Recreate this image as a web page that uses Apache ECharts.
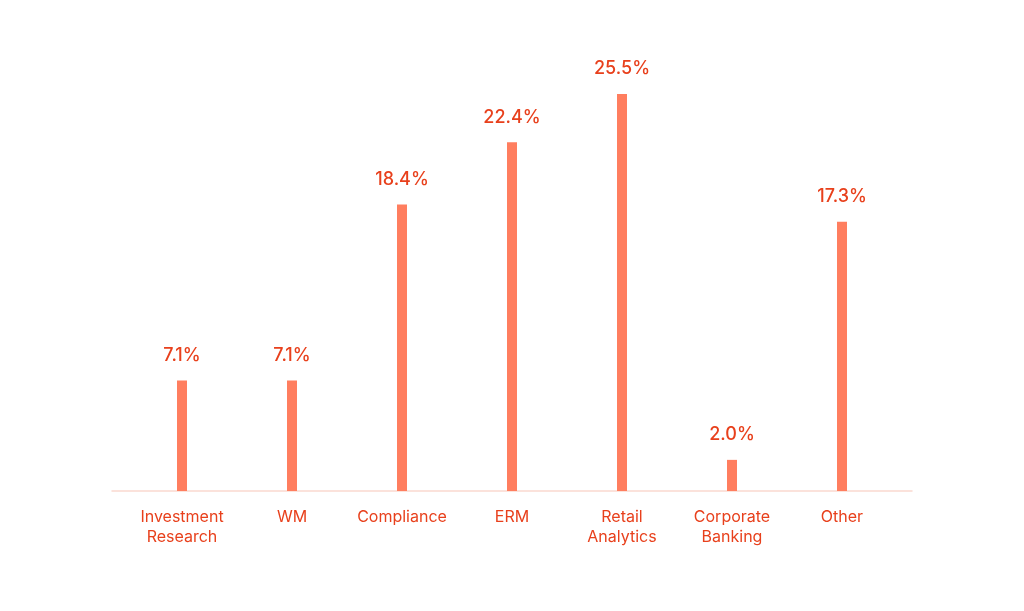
<!DOCTYPE html>
<html><head><meta charset="utf-8">
<script src="https://cdn.jsdelivr.net/npm/echarts@6/dist/echarts.min.js"></script>
<style>html,body{margin:0;padding:0;background:#fff}#c{width:1024px;height:611px}</style>
</head><body><div id="c"></div>
<script>
const categories = ['Investment\nResearch', 'WM', 'Compliance', 'ERM', 'Retail\nAnalytics', 'Corporate\nBanking', 'Other'];
const shares = [7.1, 7.1, 18.4, 22.4, 25.5, 2.0, 17.3];
const chart = echarts.init(document.getElementById('c'));
chart.setOption({
  backgroundColor: '#ffffff',
  animation: false,
  grid: [
    {left: 127, width: 770, top: 24, bottom: 120},
    {left: 112, width: 800, top: 24, bottom: 120}
  ],
  xAxis: [{
    type: 'category', data: categories, gridIndex: 0,
    axisLine: {show: false}, axisTick: {show: false},
    axisLabel: {color: '#E8401C', fontSize: 16, fontFamily: 'Inter', lineHeight: 20, margin: 16, interval: 0}
  }, {
    type: 'value', gridIndex: 1, min: 0, max: 1,
    axisLine: {show: true, onZero: false, lineStyle: {color: '#FAD9CF', width: 1.5}},
    axisTick: {show: false}, axisLabel: {show: false}, splitLine: {show: false}
  }],
  yAxis: [{
    type: 'value', gridIndex: 0, min: 0, max: 30,
    axisLine: {show: false}, axisTick: {show: false}, axisLabel: {show: false}, splitLine: {show: false}
  }, {
    type: 'value', gridIndex: 1, min: 0, max: 1, show: false
  }],
  series: [{
    type: 'bar', data: shares, barWidth: 10, xAxisIndex: 0, yAxisIndex: 0,
    itemStyle: {color: '#FF7E5F'},
    label: {show: true, position: 'top', distance: 16, color: '#E8401C', fontSize: 18, fontWeight: 500, fontFamily: 'Inter',
      formatter: p => p.value.toFixed(1) + '%'}
  }]
});
</script></body></html>
